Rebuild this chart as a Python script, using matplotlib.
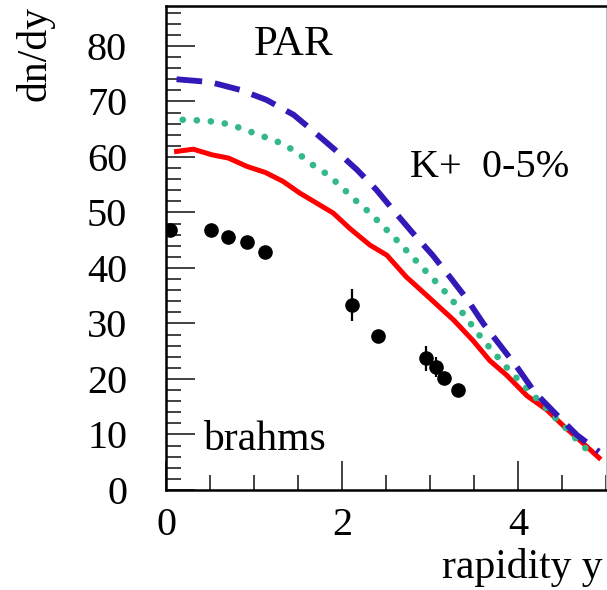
"""K+ rapidity density (0-5% central), PAR model curves vs BRAHMS data.

Writes out.png.
"""

import matplotlib

matplotlib.use("Agg")
import matplotlib.pyplot as plt
from matplotlib.ticker import MultipleLocator
import numpy as np

# model curves
blue_x = [0.12, 0.50, 0.84, 1.14, 1.45, 1.67, 1.92, 2.17, 2.39, 2.60, 2.81,
          3.03, 3.23, 3.42, 3.61, 3.81, 4.00, 4.19, 4.43, 4.67, 4.92]
blue_y = [74.0, 73.5, 72.1, 70.3, 67.6, 64.7, 61.3, 57.7, 54.1, 50.1, 46.2,
          42.3, 38.3, 34.4, 29.9, 25.8, 21.9, 17.6, 13.7, 9.9, 6.9]

green_x = [0.19, 0.35, 0.52, 0.68, 0.83, 1.14, 1.29, 1.44, 1.57, 1.69, 1.83,
           1.96, 2.08, 2.20, 2.32, 2.43, 2.55, 2.66, 2.77, 2.89, 3.00, 3.11,
           3.21, 3.32, 3.42, 3.51, 3.62, 3.72, 3.83, 3.94, 4.05, 4.17, 4.28,
           4.39, 4.51, 4.63, 4.74, 4.88]
green_y = [66.7, 66.6, 66.4, 66.0, 65.3, 63.5, 62.6, 61.3, 59.8, 58.3, 56.9,
           55.1, 53.3, 51.5, 49.9, 48.1, 46.2, 44.4, 42.5, 40.5, 38.6, 36.8,
           35.0, 32.9, 30.9, 28.9, 26.7, 24.9, 22.8, 20.9, 19.1, 17.1, 15.5,
           13.5, 11.7, 9.7, 7.9, 6.0]

red_x = [0.12, 0.31, 0.52, 0.71, 0.92, 1.13, 1.33, 1.52, 1.71, 1.90, 2.09,
         2.32, 2.51, 2.73, 2.96, 3.27, 3.49, 3.68, 3.87, 4.10, 4.33, 4.52,
         4.70, 4.92]
red_y = [61.0, 61.4, 60.4, 59.8, 58.3, 57.2, 55.6, 53.5, 51.7, 49.9, 47.1,
         44.1, 42.3, 38.4, 35.1, 30.6, 26.9, 23.3, 20.7, 17.0, 14.4, 11.5,
         9.0, 5.8]

# BRAHMS data
data_x = [0.05, 0.51, 0.71, 0.92, 1.12, 2.11, 2.41, 2.96, 3.07, 3.16, 3.32]
data_y = [46.9, 46.8, 45.6, 44.6, 42.8, 33.3, 27.8, 23.7, 22.1, 20.1, 18.1]
data_err = [0.8, 0.8, 0.8, 0.8, 0.8, 2.85, 0.8, 2.2, 1.8, 0.8, 0.8]

BLUE = "#3319b8"
GREEN = "#33b887"
RED = "#ff0000"
FS = 29      # tick labels
FS_TXT = 30  # annotations / axis titles


def main():
    plt.rcParams["font.family"] = ["Liberation Serif", "DejaVu Serif"]
    fig = plt.figure(figsize=(6.07, 5.90), dpi=100)
    ax = fig.add_axes([166 / 607, 100 / 590, 440 / 607, 484 / 590])

    ax.plot(red_x, red_y, color=RED, linewidth=3.6, solid_joinstyle="round")
    ax.plot(green_x, green_y, color=GREEN, linewidth=4.8,
            linestyle=(0, (0.01, 2.1)), dash_capstyle="round")
    ax.plot(blue_x, blue_y, color=BLUE, linewidth=4.2,
            linestyle=(0, (4.4, 2.2)), dash_capstyle="butt")
    ax.errorbar(data_x, data_y, yerr=data_err, fmt="o", color="black",
                markersize=9.5, elinewidth=1.6, capsize=0, zorder=5)

    ax.set_xlim(0, 5.0)
    ax.set_ylim(0, 87.2)
    ax.xaxis.set_major_locator(MultipleLocator(2))
    ax.xaxis.set_minor_locator(MultipleLocator(0.5))
    ax.yaxis.set_major_locator(MultipleLocator(10))
    ax.yaxis.set_minor_locator(MultipleLocator(2))
    ax.tick_params(which="both", direction="in", top=False, right=False,
                   labelsize=FS, width=1.3, color="#333333")
    ax.tick_params(which="major", length=21)
    ax.tick_params(which="minor", length=11)
    ax.tick_params(axis="y", which="major", pad=28)
    ax.tick_params(axis="x", which="major", pad=12)

    for side in ("left", "bottom", "top"):
        ax.spines[side].set_linewidth(1.8)
        ax.spines[side].set_color("black")
    ax.spines["right"].set_linewidth(0.8)
    ax.spines["right"].set_color("#c0c0c0")

    ax.text(1.0, 78.4, "PAR", fontsize=FS_TXT + 1, va="baseline")
    ax.text(2.77, 56.4, "K+  0-5%", fontsize=FS, va="baseline")
    ax.text(0.42, 7.2, "brahms", fontsize=FS_TXT, va="baseline")

    fig.text(0.058, 0.99, "dn/dy", fontsize=FS_TXT, rotation=90,
             ha="center", va="top")
    # kept just inside the bottom-right corner of the figure
    fig.text(603 / 607, 3 / 590, "rapidity y", fontsize=FS_TXT,
             ha="right", va="bottom")

    fig.savefig("out.png", dpi=100)
    plt.close(fig)


if __name__ == "__main__":
    main()
